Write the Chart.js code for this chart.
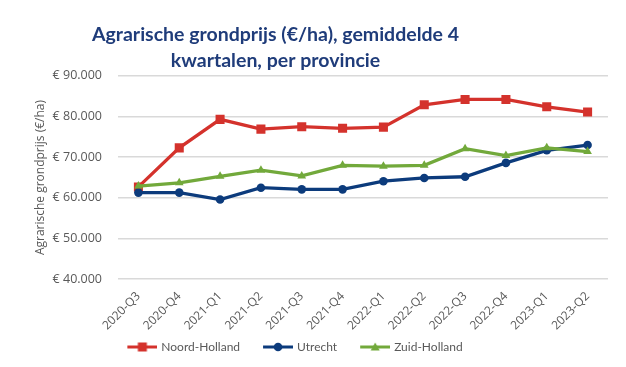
<!DOCTYPE html>
<html>
<head>
<meta charset="utf-8">
<script src="https://cdn.jsdelivr.net/npm/chart.js@4.4.1/dist/chart.umd.min.js"></script>
<style>
  html, body { margin: 0; padding: 0; background: #fff; }
  #wrap { width: 626px; height: 367px; }
</style>
</head>
<body>
<div id="wrap"><canvas id="myChart" width="626" height="367"></canvas></div>
<script>
// quarters on the x axis
const quarters = ['2020-Q3', '2020-Q4', '2021-Q1', '2021-Q2', '2021-Q3', '2021-Q4',
    '2022-Q1', '2022-Q2', '2022-Q3', '2022-Q4', '2023-Q1', '2023-Q2'];

// price per hectare
const noordHolland = [62700, 72300, 79300, 76900, 77500, 77100, 77400, 82900, 84200, 84200, 82400, 81100];
const utrecht      = [61300, 61300, 59600, 62500, 62100, 62100, 64100, 64900, 65200, 68600, 71700, 73000];
const zuidHolland  = [62900, 63700, 65300, 66800, 65400, 68000, 67800, 68000, 72100, 70400, 72300, 71400];

const seriesNames = ['Noord-Holland', 'Utrecht', 'Zuid-Holland'];
const titleLines = ['Agrarische grondprijs (€/ha), gemiddelde 4', 'kwartalen, per provincie'];
const yAxisTitle = 'Agrarische grondprijs (€/ha)';

const red = '#D4322C';
const blue = '#0C3B7C';
const green = '#72A93B';
const grey = '#595959';

// little canvas with a line and the marker, used as legend symbol
// (transparent strip on the left gives the gap between the items,
//  it is 4px wider than the legend box so the line comes close to the text)
function legendSymbol(color, style) {
    var c = document.createElement('canvas');
    c.width = 49; c.height = 12;
    var ctx = c.getContext('2d');
    ctx.translate(19, 0);
    ctx.strokeStyle = color;
    ctx.lineWidth = 3;
    ctx.beginPath();
    ctx.moveTo(0, 6); ctx.lineTo(30, 6);
    ctx.stroke();
    ctx.fillStyle = color;
    if (style == 'rect') {
        ctx.fillRect(10.5, 1.5, 9, 9);
    } else if (style == 'circle') {
        ctx.beginPath();
        ctx.arc(15, 6, 4.3, 0, Math.PI * 2);
        ctx.fill();
    } else {
        ctx.beginPath();
        ctx.moveTo(15, 1.5); ctx.lineTo(19.5, 9.5); ctx.lineTo(10.5, 9.5);
        ctx.closePath();
        ctx.fill();
    }
    return c;
}

// shift title and legend to the left like in the original
const shiftBoxes = {
    id: 'shiftBoxes',
    afterLayout(chart) {
        if (chart.titleBlock) {
            chart.titleBlock.left -= 45;
            chart.titleBlock.right -= 45;
        }
        if (chart.legend) {
            chart.legend.left -= 34;
            chart.legend.right -= 34;
        }
    }
};

const data = {
    labels: quarters,
    datasets: [{
        label: seriesNames[0],
        data: noordHolland,
        borderColor: red,
        backgroundColor: red,
        pointStyle: 'rect',
        pointRadius: 6.4,
        order: 2,
        symbol: legendSymbol(red, 'rect')
    }, {
        label: seriesNames[1],
        data: utrecht,
        borderColor: blue,
        backgroundColor: blue,
        pointStyle: 'circle',
        pointRadius: 4.3,
        order: 1,
        symbol: legendSymbol(blue, 'circle')
    }, {
        label: seriesNames[2],
        data: zuidHolland,
        borderColor: green,
        backgroundColor: green,
        pointStyle: 'triangle',
        pointRadius: 5,
        order: 0,
        symbol: legendSymbol(green, 'triangle')
    }]
};

const config = {
    type: 'line',
    data: data,
    options: {
        responsive: false,
        animation: false,
        devicePixelRatio: 1,
        layout: { padding: { left: 33, right: 18, top: 0, bottom: 4 } },
        elements: {
            line: { borderWidth: 3.3, tension: 0 },
            point: { borderWidth: 0 }
        },
        scales: {
            x: {
                offset: true,
                grid: { display: false },
                border: { display: false },
                ticks: {
                    color: grey,
                    font: { family: 'Open Sans', size: 12 },
                    minRotation: 45,
                    maxRotation: 45,
                    padding: 2
                }
            },
            y: {
                min: 40000,
                max: 90000,
                grid: { color: '#D9D9D9', lineWidth: 1.5, drawTicks: false },
                border: { display: false },
                ticks: {
                    stepSize: 10000,
                    color: grey,
                    padding: 16,
                    font: { family: 'Open Sans', size: 12.5 },
                    callback: function(v) {
                        return '€ ' + v.toLocaleString('nl-NL');
                    }
                },
                title: {
                    display: true,
                    text: yAxisTitle,
                    color: grey,
                    font: { family: 'Open Sans', size: 12 },
                    padding: { top: 0, bottom: 6 }
                },
                afterFit: function(scale) { scale.width = 85; }
            }
        },
        plugins: {
            title: {
                display: true,
                text: titleLines,
                color: '#1F3C7A',
                font: { family: 'Lato', size: 19.5, weight: 'bold', lineHeight: 1.33 },
                padding: { top: 22, bottom: 2 }
            },
            legend: {
                position: 'bottom',
                labels: {
                    color: grey,
                    font: { family: 'Lato', size: 12 },
                    usePointStyle: true,
                    pointStyleWidth: 45,
                    padding: 6,
                    generateLabels: function(chart) {
                        return chart.data.datasets.map(function(ds, i) {
                            return {
                                text: ds.label,
                                pointStyle: ds.symbol,
                                fontColor: grey,
                                strokeStyle: ds.borderColor,
                                fillStyle: ds.backgroundColor,
                                lineWidth: 0,
                                datasetIndex: i
                            };
                        });
                    }
                }
            },
            tooltip: { enabled: false }
        }
    },
    plugins: [shiftBoxes]
};

var myChartJS = new Chart(document.getElementById('myChart'), config);
</script>
</body>
</html>
